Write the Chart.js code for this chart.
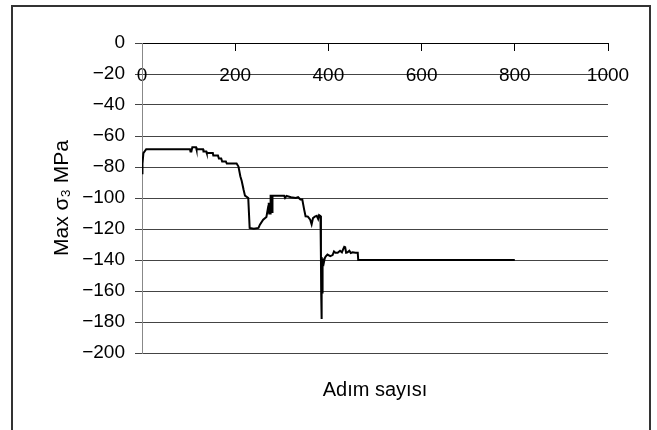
<!DOCTYPE html>
<html>
<head>
<meta charset="utf-8">
<script src="https://cdn.jsdelivr.net/npm/chart.js@4"></script>
<style>
  html, body { margin: 0; padding: 0; background: #fff; }
</style>
</head>
<body>
<canvas id="chart" width="657" height="430"></canvas>
<script>
// adım sayısı (step number) and max sigma-3 (MPa) per step
const steps = [
  0, 1, 3, 9, 103, 104, 106, 108, 116, 117, 131, 132, 138, 139, 152, 153, 163, 165, 170, 172,
  180, 182, 203, 207, 211, 214, 218, 221, 228, 231, 240, 250, 253, 260, 267, 271, 272, 273, 275, 276,
  278, 279, 280, 305, 307, 310, 320, 330, 335, 340, 344, 346, 348, 351, 356, 361, 364, 367, 371, 375,
  378, 380, 383, 384, 384.5, 385, 385.5, 386, 386.5, 387, 387.5, 388, 390, 392, 394, 398, 404, 409, 412, 415,
  420, 425, 429, 432, 434, 436, 438, 441, 445, 448, 452, 458, 463, 464, 800
];
const stress = [
  -84, -78, -71, -68.5, -68.5, -70, -70, -67.2, -67.2, -68.5, -68.5, -70, -70, -71, -71, -72.5, -72.5, -74.5, -74.5, -76.5,
  -76.5, -77.8, -77.8, -79.7, -86, -89, -94.7, -98.5, -100, -119.3, -119.8, -119.3, -117.2, -114, -112.2, -105.4, -103, -110, -110, -98.6,
  -98.6, -109, -98.5, -98.5, -100, -98.7, -99.5, -100, -99.5, -101, -101, -104.3, -107.5, -111.8, -112, -114, -117, -113, -112, -111.5,
  -113.5, -111, -111.6, -139, -161, -138, -178, -141, -161, -139, -160, -140, -142, -139, -137.8, -136.5, -137.5, -136.8, -134.5, -135.3,
  -135.3, -134, -135, -132.8, -131.5, -131.8, -135.3, -135, -134, -135.5, -135, -135.3, -135.3, -140, -140
];
const xTicks = [0, 200, 400, 600, 800, 1000];
const yTicks = [-200, -180, -160, -140, -120, -100, -80, -60, -40, -20, 0];

const FONT = "'Liberation Sans', Arial, sans-serif";

// negative tick values get a proper minus sign
const fmt = v => (v < 0 ? '\u2212' + Math.abs(v) : String(v));

// white page with the dark outer frame around the chart object
const framePlugin = {
  id: 'frame',
  beforeDraw(chart) {
    const ctx = chart.ctx;
    ctx.save();
    ctx.fillStyle = '#fff';
    ctx.fillRect(0, 0, chart.width, chart.height);
    ctx.strokeStyle = '#333';
    ctx.lineWidth = 2;
    ctx.strokeRect(12, 6, 638, 440);
    ctx.restore();
  }
};

new Chart(document.getElementById('chart'), {
  type: 'line',
  data: {
    datasets: [{
      data: steps.map((s, i) => ({ x: s, y: stress[i] })),
      borderColor: '#000',
      borderWidth: 2,
      pointRadius: 0,
      tension: 0,
      fill: false,
      xAxisID: 'x',
      yAxisID: 'y'
    }]
  },
  options: {
    responsive: false,
    animation: false,
    layout: { padding: { left: 40, top: 43, right: 49, bottom: 28 } },
    plugins: {
      legend: { display: false },
      tooltip: { enabled: false }
    },
    scales: {
      x: {
        type: 'linear',
        min: 0,
        max: 1000,
        position: { y: 0 },
        afterBuildTicks(scale) { scale.ticks = xTicks.map(v => ({ value: v })); },
        ticks: {
          color: '#000',
          font: { family: FONT, size: 19 },
          padding: 14,
          maxRotation: 0,
          autoSkip: false,
          callback: v => fmt(v)
        },
        grid: { drawOnChartArea: false, drawTicks: true, tickLength: 7, color: '#000' },
        border: { display: true, color: '#000', width: 1 }
      },
      x2: {
        type: 'linear',
        position: 'bottom',
        afterFit(scale) { scale.height = 49; },
        ticks: { display: false },
        grid: { display: false },
        border: { display: false },
        title: {
          display: true,
          text: 'Adım sayısı',
          color: '#000',
          font: { family: FONT, size: 20 },
          padding: 0
        }
      },
      y: {
        type: 'linear',
        min: -200,
        max: 0,
        position: 'left',
        afterBuildTicks(scale) { scale.ticks = yTicks.map(v => ({ value: v })); },
        afterFit(scale) { scale.width = 102; },
        ticks: {
          color: '#000',
          font: { family: FONT, size: 19 },
          padding: 10,
          callback: v => fmt(v)
        },
        grid: { color: '#444', lineWidth: 1, tickLength: 7 },
        border: { display: true, color: '#888', width: 1 },
        title: {
          display: true,
          text: 'Max σ₃ MPa',
          color: '#000',
          font: { family: FONT, size: 21 },
          padding: { top: 10, bottom: 0 }
        }
      }
    }
  },
  plugins: [framePlugin]
});
</script>
</body>
</html>
